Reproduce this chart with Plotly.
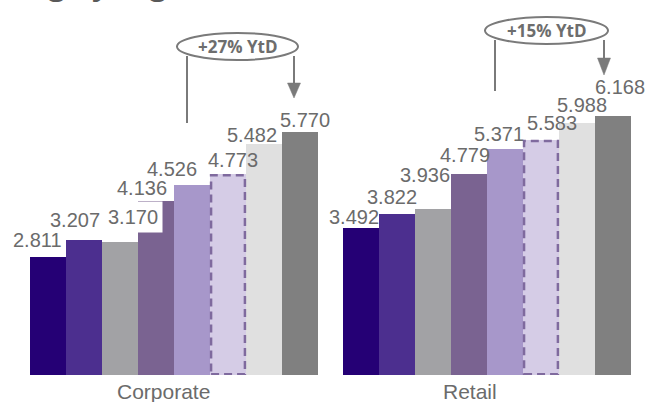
import plotly.graph_objects as go

# ---------------- data ----------------
categories = ["Corporate", "Retail"]
corporate = [2.811, 3.207, 3.170, 4.136, 4.526, 4.773, 5.482, 5.770]
retail = [3.492, 3.822, 3.936, 4.779, 5.371, 5.583, 5.988, 6.168]
growth_labels = ["+27% YtD", "+15% YtD"]
title_text = "Lending by segment (EUR bn)"

# ---------------- styles / layout helpers ----------------
W, H = 648, 402
PLOT_H = 375                      # baseline pixel row
PX_PER_UNIT_Y = 42.05
PX_PER_UNIT_X = 36.0
LEFT_PX = 30.0                    # left edge of first bar
group_start = [0.0, 8.694]        # x position of first bar in each group

bar_colors = ["#250075", "#4C2F8F", "#A2A2A5", "#7A6391",
              "#A797CA", "#D5CCE6", "#E0E0E0", "#808080"]
dashed_index = 5
dash_color = "#7F6A9E"
label_color = "#6B6B6B"
line_grey = "#7A7A7A"

# per-bar label offsets in pixels (dx, dy) relative to bar centre / bar top
label_offsets = [
    [(-10.5, -17.3), (-9, -20.6), (13, -25.2), (-14, -13), (-20, -15.7), (4.5, -14.3), (-12, -9), (5, -12.4)],
    [(-7, -10.7), (-5, -16.8), (-7.5, -34), (-4, -19.5), (-6, -15.6), (11, -17.2), (5.5, -18.7), (7, -28.6)],
]
label_bg_white = [[False, False, True, False, False, False, False, False],
                  [False] * 8]
cat_xshift = [-10.5, -17]

x_min = -0.5 - LEFT_PX / PX_PER_UNIT_X
x_max = x_min + W / PX_PER_UNIT_X
y_max = PLOT_H / PX_PER_UNIT_Y


def X(px):
    return px / W


def Y(py):
    return 1 - py / PLOT_H


series = [corporate, retail]

fig = go.Figure()
for i in range(len(corporate)):
    fig.add_trace(go.Bar(
        x=[group_start[g] + i for g in range(len(categories))],
        y=[series[g][i] for g in range(len(categories))],
        width=1.0,
        marker=dict(color=bar_colors[i], line=dict(width=0)),
        hoverinfo="skip",
    ))

annotations = []
shapes = []

# value labels
for g in range(len(categories)):
    for i, v in enumerate(series[g]):
        dx, dy = label_offsets[g][i]
        ann = dict(
            x=group_start[g] + i, y=v, xref="x", yref="y",
            text=f"{v:.3f}", showarrow=False,
            xanchor="center", yanchor="middle",
            xshift=dx, yshift=-dy,
            font=dict(family="Liberation Sans, Arial", size=20, color=label_color),
        )
        if label_bg_white[g][i]:
            ann.update(bgcolor="white", borderpad=4)
        annotations.append(ann)

    # dashed outline for the highlighted bar
    pos = group_start[g] + dashed_index
    shapes.append(dict(
        type="rect", xref="x", yref="y",
        x0=pos - 0.5 + 0.03, x1=pos + 0.5 - 0.03,
        y0=0.02, y1=series[g][dashed_index] - 0.02,
        line=dict(color=dash_color, width=2.5, dash="8px,5px"),
        fillcolor="rgba(0,0,0,0)", layer="above",
    ))

    # category label
    annotations.append(dict(
        x=group_start[g] + 3.5, y=0, xref="x", yref="paper",
        text=categories[g], showarrow=False,
        xanchor="center", yanchor="top", xshift=cat_xshift[g], yshift=-3,
        font=dict(family="Liberation Sans, Arial", size=21, color=label_color),
    ))

# growth callouts (oval + bracket lines + arrow)
callouts = [
    dict(ox0=177, ox1=298, oy0=33, oy1=60, lx=187, ly1=123, rx=294, ah0=83, ah1=98),
    dict(ox0=485, ox1=608, oy0=17, oy1=44, lx=495, ly1=91, rx=604, ah0=58, ah1=75),
]
for c, txt in zip(callouts, growth_labels):
    shapes.append(dict(type="circle", xref="paper", yref="paper",
                       x0=X(c["ox0"]), x1=X(c["ox1"]), y0=Y(c["oy1"]), y1=Y(c["oy0"]),
                       line=dict(color=line_grey, width=2), fillcolor="white"))
    shapes.append(dict(type="line", xref="paper", yref="paper",
                       x0=X(c["lx"]), x1=X(c["lx"]), y0=Y(c["oy1"] - 4), y1=Y(c["ly1"]),
                       line=dict(color=line_grey, width=2)))
    shapes.append(dict(type="line", xref="paper", yref="paper",
                       x0=X(c["rx"]), x1=X(c["rx"]), y0=Y(c["oy1"] - 4), y1=Y(c["ah0"] + 1),
                       line=dict(color=line_grey, width=2)))
    hw = 6.5
    path = (f"M {X(c['rx'] - hw)},{Y(c['ah0'])} L {X(c['rx'] + hw)},{Y(c['ah0'])} "
            f"L {X(c['rx'])},{Y(c['ah1'])} Z")
    shapes.append(dict(type="path", xref="paper", yref="paper", path=path,
                       fillcolor=line_grey, line=dict(color=line_grey, width=0.5)))
    annotations.append(dict(
        x=X((c["ox0"] + c["ox1"]) / 2), y=Y((c["oy0"] + c["oy1"]) / 2),
        xref="paper", yref="paper", text=txt, showarrow=False,
        xanchor="center", yanchor="middle",
        font=dict(family="Open Sans", size=17, color="#6D6D6D", weight="bold"),
    ))

# cropped slide title (only the descenders show at the top edge)
annotations.append(dict(
    x=X(-56), y=Y(6), xref="paper", yref="paper", text=title_text,
    showarrow=False, xanchor="left", yanchor="bottom",
    font=dict(family="Open Sans", size=30, color="#595959", weight="bold"),
))

fig.update_layout(
    width=W, height=H,
    margin=dict(l=0, r=0, t=0, b=H - PLOT_H, pad=0),
    paper_bgcolor="white", plot_bgcolor="white",
    barmode="overlay", bargap=0,
    showlegend=False,
    xaxis=dict(range=[x_min, x_max], visible=False, fixedrange=True),
    yaxis=dict(range=[0, y_max], visible=False, fixedrange=True),
    annotations=annotations,
    shapes=shapes,
)

fig.write_html(
    "out.html",
    config={"displayModeBar": False},
    post_script="document.body.style.margin='0px';document.body.style.overflow='hidden';",
)
